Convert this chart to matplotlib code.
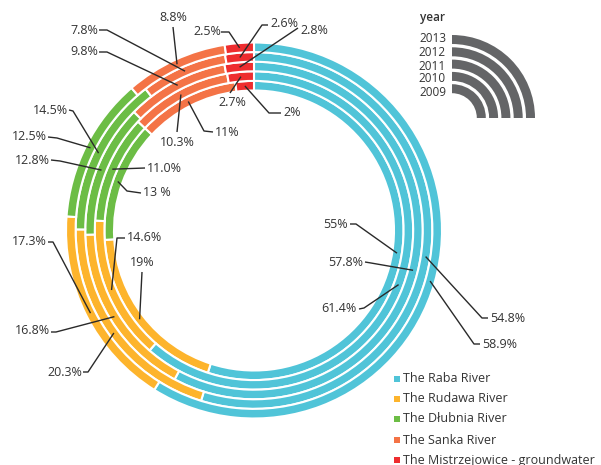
import numpy as np
import matplotlib.pyplot as plt
from matplotlib.patches import Wedge

plt.rcParams['font.family'] = ['Open Sans', 'DejaVu Sans']

# dane
years = ["2009", "2010", "2011", "2012", "2013"]
sources = ["The Raba River", "The Rudawa River", "The D\u0142ubnia River",
           "The Sanka River", "The Mistrzejowice - groundwater"]
colors = ["#50c4d8", "#fdb42c", "#6cbd45", "#f47346", "#ee2d2f"]

raba = [55.0, 61.4, 57.8, 54.8, 58.9]
rudawa = [19.0, 14.6, 16.8, 20.3, 17.3]
dlubnia = [13.0, 11.0, 12.8, 14.5, 12.5]
sanka = [11.0, 10.3, 9.8, 7.8, 8.8]
mistrz = [2.0, 2.7, 2.8, 2.6, 2.5]

labels_raba = ["55%", "61.4%", "57.8%", "54.8%", "58.9%"]
labels_rudawa = ["19%", "14.6%", "16.8%", "20.3%", "17.3%"]
labels_dlubnia = ["13 %", "11.0%", "12.8%", "14.5%", "12.5%"]
labels_sanka = ["11%", "10.3%", "9.8%", "7.8%", "8.8%"]
labels_mistrz = ["2%", "2.7%", "2.8%", "2.6%", "2.5%"]

H = 465
def py(y):
    return H - y

# posiciones de etiquetas (px): texto x, y, ha, puntos de la línea
layout = [
    # Raba
    [(348, 225, 'right', [(350, 224), (356, 224)]),
     (357, 309, 'right', [(359, 309), (364, 308)]),
     (363, 262, 'right', [(365, 262), (371, 263)]),
     (490, 318, 'left', [(488, 318), (482, 318)]),
     (482, 344, 'left', [(480, 344), (474, 344)])],
    # Rudawa
    [(142, 263, 'center', [(142, 272)]),
     (127, 238, 'left', [(125, 238), (117, 238)]),
     (50, 331, 'right', [(51, 332), (56, 332)]),
     (82, 372, 'right', [(83, 372), (88, 372)]),
     (47, 242, 'right', [(48, 242), (53, 242)])],
    # Dlubnia
    [(143, 193, 'left', [(141, 193), (127, 191)]),
     (147, 168, 'left', [(145, 168)]),
     (50, 160, 'right', [(51, 160), (60, 161)]),
     (68, 110, 'right', [(69, 110), (73, 111)]),
     (47, 137, 'right', [(48, 137), (57, 138)])],
    # Sanka
    [(215, 132, 'left', [(213, 132), (204, 131)]),
     (177, 142, 'center', [(177, 132)]),
     (98, 52, 'right', [(99, 52), (107, 52)]),
     (98, 31, 'right', [(99, 30), (107, 30)]),
     (173, 18, 'center', [(173, 27)])],
    # Mistrzejowice
    [(283, 113, 'left', [(281, 113), (269, 113)]),
     (232, 102, 'center', [(230, 93)]),
     (300, 31, 'left', [(298, 28)]),
     (270, 24, 'left', [(268, 25), (262, 25)]),
     (221, 32, 'right', [(221, 32), (229, 32)])],
]

fig = plt.figure(figsize=(6.01, 4.65), dpi=100)
ax = fig.add_axes([0, 0, 1, 1])

cx, cy = 254, py(230.5)
r_outer = 188
ring_w = 9.6
txt_color = '#333333'

table = np.array([raba, rudawa, dlubnia, sanka, mistrz])  # fuente x año
all_labels = [labels_raba, labels_rudawa, labels_dlubnia, labels_sanka, labels_mistrz]

# anillos: 2009 interior, 2013 exterior
for i, year in enumerate(years):
    r = r_outer - (len(years) - 1 - i) * ring_w
    ax.pie(table[:, i], radius=r, center=(cx, cy), colors=colors,
           startangle=90, counterclock=False,
           wedgeprops=dict(width=ring_w, edgecolor='white', linewidth=1.5))

    cum = np.cumsum(table[:, i]) - table[:, i]
    r_mid = r - ring_w / 2
    for j in range(len(sources)):
        frac = (cum[j] + table[j, i] / 2) / 100.0
        th = 2 * np.pi * frac
        axp = cx + r_mid * np.sin(th)
        ayp = cy + r_mid * np.cos(th)
        tx, ty, ha, pts = layout[j][i]
        xs = [p[0] for p in pts] + [axp]
        ys = [py(p[1]) for p in pts] + [ayp]
        ax.plot(xs, ys, color='#2a2a2a', lw=1.0, solid_capstyle='butt')
        ax.text(tx, py(ty), all_labels[j][i], ha=ha, va='center',
                fontsize=9, color=txt_color)

# leyenda de años
kx, ky = 452, py(118)
key_r = 83
key_pitch = 12.3
ax.text(420, py(18), "year", fontsize=8.5, fontweight='semibold',
        color=txt_color, ha='left', va='center')
key_y = [39, 53, 67, 79, 92]
for k, year in enumerate(years[::-1]):
    rr = key_r - k * key_pitch
    ax.add_patch(Wedge((kx, ky), rr, 0, 90, width=9, color='#646567', lw=0))
    ax.text(446, py(key_y[k]), year, fontsize=8.5, color=txt_color,
            ha='right', va='center')

# leyenda de fuentes
leg_y = [379, 399, 419, 440, 460]
for j, name in enumerate(sources):
    ax.scatter([397], [py(leg_y[j])], marker='s', s=22, color=colors[j], lw=0)
    ax.text(403, py(leg_y[j]), name, fontsize=9, color=txt_color,
            ha='left', va='center')

ax.set_xlim(0, 601)
ax.set_ylim(0, H)
ax.set_aspect('equal')
ax.axis('off')

fig.savefig("out.png", dpi=100)
